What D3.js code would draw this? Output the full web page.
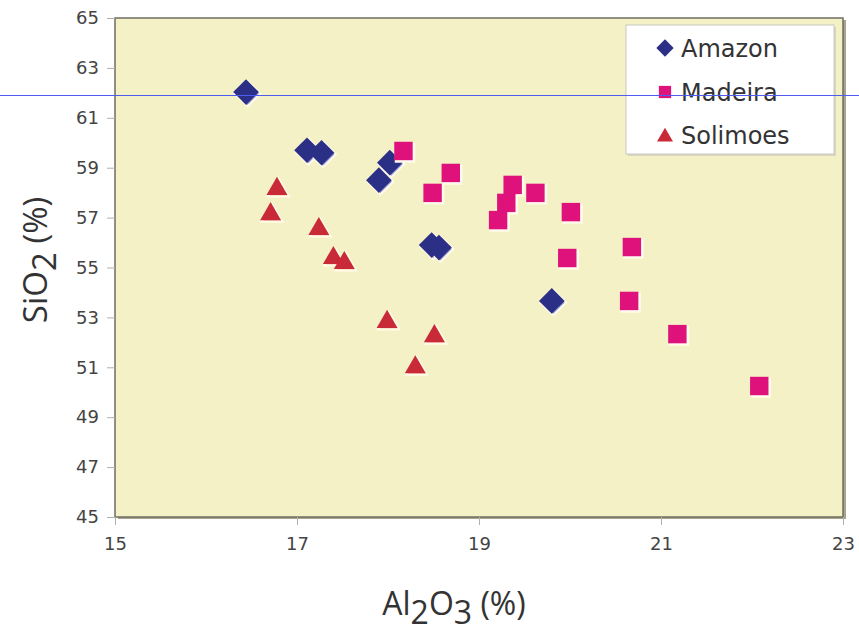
<!DOCTYPE html>
<html>
<head>
<meta charset="utf-8">
<script src="https://cdn.jsdelivr.net/npm/d3@7"></script>
<style>
body { margin: 0; background: #fff; }
svg { display: block; font-family: "DejaVu Sans", Verdana, sans-serif; }
</style>
</head>
<body>
<div></div>
<script>
// data
var amazonX = [16.44, 17.11, 17.27, 17.90, 18.02, 18.48, 18.56, 19.80];
var amazonY = [62.03, 59.70, 59.60, 58.50, 59.20, 55.90, 55.80, 53.66];
var madeiraX = [18.17, 18.69, 18.49, 19.37, 19.30, 19.21, 19.62, 20.01, 19.97, 20.68, 20.65, 21.18, 22.08];
var madeiraY = [59.67, 58.79, 57.99, 58.31, 57.59, 56.90, 57.99, 57.22, 55.38, 55.82, 53.66, 52.33, 50.25];
var solimoesX = [16.78, 16.71, 17.24, 17.40, 17.52, 17.99, 18.51, 18.30];
var solimoesY = [58.15, 57.14, 56.54, 55.38, 55.18, 52.82, 52.25, 51.00];
var xTicks = [15, 17, 19, 21, 23];
var yTicks = [45, 47, 49, 51, 53, 55, 57, 59, 61, 63, 65];
var seriesNames = ["Amazon", "Madeira", "Solimoes"];

var W = 859, H = 633;
var svg = d3.select("div").append("svg").attr("width", W).attr("height", H);

var x = d3.scaleLinear().domain([15, 23]).range([115, 843]);
var y = d3.scaleLinear().domain([45, 65]).range([517, 18]);

// plot area
svg.append("rect")
  .attr("x", x(15) + 3).attr("y", y(65) + 2)
  .attr("width", x(23) - x(15)).attr("height", y(45) - y(65))
  .attr("fill", "#a9a58a");
svg.append("rect")
  .attr("x", x(15)).attr("y", y(65))
  .attr("width", x(23) - x(15)).attr("height", y(45) - y(65))
  .attr("fill", "#f5f1c6")
  .attr("stroke", "#6e6e62").attr("stroke-width", 1.5);

// axes
var yAxis = svg.append("g")
  .attr("transform", "translate(" + x(15) + ",0)")
  .call(d3.axisLeft(y).tickValues(yTicks).tickSize(8).tickPadding(8));
var xAxis = svg.append("g")
  .attr("transform", "translate(0," + y(45) + ")")
  .call(d3.axisBottom(x).tickValues(xTicks).tickSize(8).tickPadding(12));
[xAxis, yAxis].forEach(function(a) {
  a.select(".domain").remove();
  a.selectAll("line").attr("stroke", "#b0b0a8");
  a.selectAll("text").attr("fill", "#444").style("font-size", "18px")
    .style("font-family", "\"DejaVu Sans\", Verdana, sans-serif");
});

// axis titles
var titleFont = "\"Open Sans\", \"Noto Sans\", sans-serif";
var xt = svg.append("text")
  .attr("x", 454).attr("y", 615)
  .attr("text-anchor", "middle")
  .attr("fill", "#333").style("font-size", "32px").style("font-family", titleFont);
xt.append("tspan").text("Al");
xt.append("tspan").text("2").attr("dy", 9);
xt.append("tspan").text("O").attr("dy", -9);
xt.append("tspan").text("3").attr("dy", 9);
xt.append("tspan").text(" (%)").attr("dy", -9);

var yt = svg.append("text")
  .attr("transform", "translate(47,260) rotate(-90)")
  .attr("text-anchor", "middle")
  .attr("fill", "#333").style("font-size", "33px").style("font-family", titleFont);
yt.append("tspan").text("SiO");
yt.append("tspan").text("2").attr("dy", 9);
yt.append("tspan").text(" (%)").attr("dy", -9);

// markers
var sym = {
  Amazon: { type: d3.symbolSquare, size: 330, rot: 45, fill: "#2b2f85", edge: "#9b9ed8" },
  Madeira: { type: d3.symbolSquare, size: 340, rot: 0, fill: "#df127c", edge: "#ffffff" },
  Solimoes: { type: d3.symbolTriangle, size: 190, rot: 0, fill: "#c92a38", edge: "#f2c8a8" }
};

function drawSeries(name, xs, ys) {
  var s = sym[name];
  var pts = xs.map(function(v, i) { return [v, ys[i]]; });
  var g = svg.append("g");
  var gen = d3.symbol().type(s.type).size(s.size);
  g.selectAll("path.sh").data(pts).enter().append("path")
    .attr("d", gen)
    .attr("transform", function(d) { return "translate(" + (x(d[0]) + 1.5) + "," + (y(d[1]) + 1.5) + ") rotate(" + s.rot + ")"; })
    .attr("fill", s.edge).attr("stroke", "#fffbe8").attr("stroke-width", 2);
  g.selectAll("path.mk").data(pts).enter().append("path")
    .attr("d", gen)
    .attr("transform", function(d) { return "translate(" + x(d[0]) + "," + y(d[1]) + ") rotate(" + s.rot + ")"; })
    .attr("fill", s.fill);
}
drawSeries("Amazon", amazonX, amazonY);
drawSeries("Madeira", madeiraX, madeiraY);
drawSeries("Solimoes", solimoesX, solimoesY);

// legend
var lg = svg.append("g");
lg.append("rect").attr("x", 628).attr("y", 27).attr("width", 208).attr("height", 129).attr("fill", "#d8d6c0");
lg.append("rect").attr("x", 626).attr("y", 25).attr("width", 208).attr("height", 129)
  .attr("fill", "#fff").attr("stroke", "#c8c8c0").attr("stroke-width", 1);
var legY = [48, 92, 135];
seriesNames.forEach(function(n, i) {
  var s = sym[n];
  var small = d3.symbol().type(s.type).size(n === "Solimoes" ? 110 : 150);
  lg.append("path").attr("d", small)
    .attr("transform", "translate(665," + (legY[i] + (n === "Solimoes" ? 2 : 0)) + ") rotate(" + s.rot + ")")
    .attr("fill", s.fill);
  lg.append("text").attr("x", 681).attr("y", legY[i] + 9)
    .attr("fill", "#333").style("font-size", "24px").text(n);
});

// thin blue guide line crossing the image
svg.append("line").attr("x1", 0).attr("x2", W).attr("y1", 95.5).attr("y2", 95.5)
  .attr("stroke", "#4f5cf0").attr("stroke-width", 1).style("shape-rendering", "crispEdges");
</script>
</body>
</html>
